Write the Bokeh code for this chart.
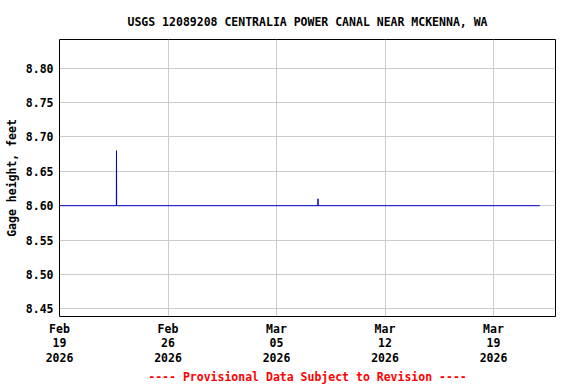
import pandas as pd
from bokeh.plotting import figure
from bokeh.models import (FixedTicker, DatetimeTickFormatter, NumeralTickFormatter,
                          Range1d, Title)
from bokeh.embed import file_html
from bokeh.resources import INLINE

# ---- data ----
times = ["2026-02-19 00:00", "2026-02-22 16:00", "2026-02-22 16:15", "2026-02-22 16:30",
         "2026-03-07 16:00", "2026-03-07 16:15", "2026-03-07 16:30", "2026-03-21 23:45"]
gage_ft = [8.60, 8.60, 8.68, 8.60, 8.60, 8.61, 8.60, 8.60]

x_tick_dates = ["2026-02-19", "2026-02-26", "2026-03-05", "2026-03-12", "2026-03-19"]
y_ticks = [8.45, 8.50, 8.55, 8.60, 8.65, 8.70, 8.75, 8.80]

title_text = "USGS 12089208 CENTRALIA POWER CANAL NEAR MCKENNA, WA"
ylabel = "Gage height, feet"
footer = "---- Provisional Data Subject to Revision ----"

FONT = "DejaVu Sans Mono"
FS = "11.5px"

t = pd.to_datetime(times)
xt = [pd.Timestamp(d).value / 1e6 for d in x_tick_dates]

p = figure(width=576, height=384, output_backend="svg", toolbar_location=None,
           x_axis_type="datetime",
           x_range=Range1d(pd.Timestamp("2026-02-19"), pd.Timestamp("2026-03-23")),
           y_range=Range1d(8.4388, 8.8418),
           min_border_left=59, min_border_right=21, min_border_top=39, min_border_bottom=68)

p.line(t, gage_ft, line_color="#0000CC", line_width=1)

p.title.text = title_text
p.title.text_font = FONT
p.title.text_font_size = FS
p.title.text_font_style = "bold"
p.title.text_color = "black"
p.title.align = "center"
p.title.standoff = 21

p.add_layout(Title(text=footer, text_font=FONT, text_font_size=FS, text_font_style="bold",
                   text_color="#FF0000", align="center", standoff=0), "below")

p.outline_line_color = "black"
p.outline_line_width = 1
p.grid.grid_line_color = "#CCCCCC"

p.xaxis.ticker = FixedTicker(ticks=xt)
p.xaxis.formatter = DatetimeTickFormatter(days="%b\n%d\n%Y", months="%b\n%d\n%Y")
p.yaxis.ticker = FixedTicker(ticks=y_ticks)
p.yaxis.formatter = NumeralTickFormatter(format="0.00")
p.yaxis.axis_label = ylabel

for ax in (p.xaxis[0], p.yaxis[0]):
    ax.axis_line_color = None
    ax.major_tick_line_color = None
    ax.minor_tick_line_color = None
    ax.major_tick_out = 0
    ax.major_tick_in = 0
    ax.major_label_text_font = FONT
    ax.major_label_text_font_size = FS
    ax.major_label_text_font_style = "bold"
    ax.major_label_text_color = "black"
    ax.axis_label_text_font = FONT
    ax.axis_label_text_font_size = FS
    ax.axis_label_text_font_style = "bold"
    ax.axis_label_text_color = "black"

p.xaxis.major_label_standoff = 5
p.xaxis.major_label_text_line_height = 1.05
p.yaxis.major_label_standoff = 6
p.yaxis.axis_label_standoff = 4

open("out.html", "w").write(file_html(p, INLINE))
